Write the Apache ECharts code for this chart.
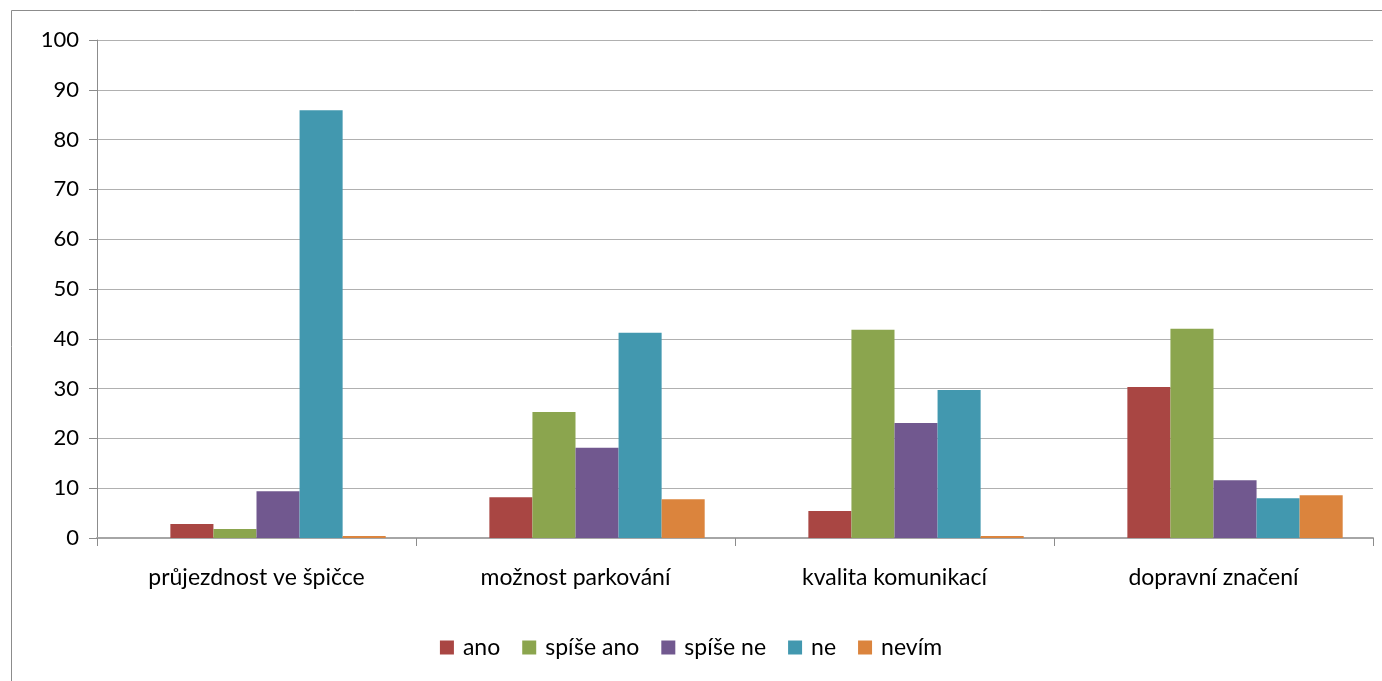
<!DOCTYPE html>
<html>
<head>
<meta charset="utf-8">
<script src="https://cdn.jsdelivr.net/npm/echarts@6/dist/echarts.min.js"></script>
<style>
    html, body { margin: 0; padding: 0; background: #fff; }
    #chart { width: 1382px; height: 681px; }
</style>
</head>
<body>
<div id="chart"></div>
<script>
    // data
    var categories = ['průjezdnost ve špičce', 'možnost parkování', 'kvalita komunikací', 'dopravní značení'];
    var seriesNames = ['ano', 'spíše ano', 'spíše ne', 'ne', 'nevím'];
    var ano = [2.8, 8.2, 5.4, 30.3];
    var spiseAno = [1.8, 25.3, 41.8, 42.0];
    var spiseNe = [9.4, 18.1, 23.1, 11.6];
    var ne = [85.9, 41.2, 29.7, 8.0];
    var nevim = [0.4, 7.8, 0.4, 8.6];
    var colors = ['#A94643', '#8BA54E', '#71588F', '#4298AF', '#DB843D'];

    var chart = echarts.init(document.getElementById('chart'));
    var font = 'Lato, "Open Sans", sans-serif';
    var values = [ano, spiseAno, spiseNe, ne, nevim];

    // the original has an empty first series slot, so the bars sit right of centre
    var series = [{
        name: '_blank',
        type: 'bar',
        data: [],
        barGap: 0,
        barCategoryGap: '19%'
    }];
    seriesNames.forEach(function (name, i) {
        series.push({
            name: name,
            type: 'bar',
            data: values[i],
            barGap: 0,
            barCategoryGap: '19%',
            itemStyle: { color: colors[i] }
        });
    });

    var option = {
        animation: false,
        backgroundColor: '#fff',
        graphic: [{
            type: 'rect',
            shape: { x: 11.5, y: 10.5, width: 1400, height: 700 },
            style: { fill: 'none', stroke: '#8c8c8c', lineWidth: 1 },
            silent: true
        }],
        grid: { left: 97, top: 40, right: 9, bottom: 143 },
        legend: {
            data: seriesNames,
            bottom: 17,
            left: 'center',
            itemWidth: 14,
            itemHeight: 14,
            itemGap: 22,
            icon: 'rect',
            textStyle: { fontFamily: font, fontSize: 23, color: '#000', padding: [0, 0, 0, 4] }
        },
        xAxis: {
            type: 'category',
            data: categories,
            axisLine: { lineStyle: { color: '#a6a6a6', width: 2 } },
            axisTick: { show: true, length: 8, lineStyle: { color: '#8c8c8c' } },
            axisLabel: { fontFamily: font, fontSize: 23, color: '#000', margin: 28 }
        },
        yAxis: {
            type: 'value',
            min: 0,
            max: 100,
            interval: 10,
            axisLine: { show: true, lineStyle: { color: '#8c8c8c' } },
            axisTick: { show: true, length: 8, lineStyle: { color: '#8c8c8c' } },
            axisLabel: { fontFamily: font, fontSize: 22, color: '#000', margin: 18 },
            splitLine: { lineStyle: { color: '#b0b0b0' } }
        },
        series: series
    };
    chart.setOption(option);
</script>
</body>
</html>
